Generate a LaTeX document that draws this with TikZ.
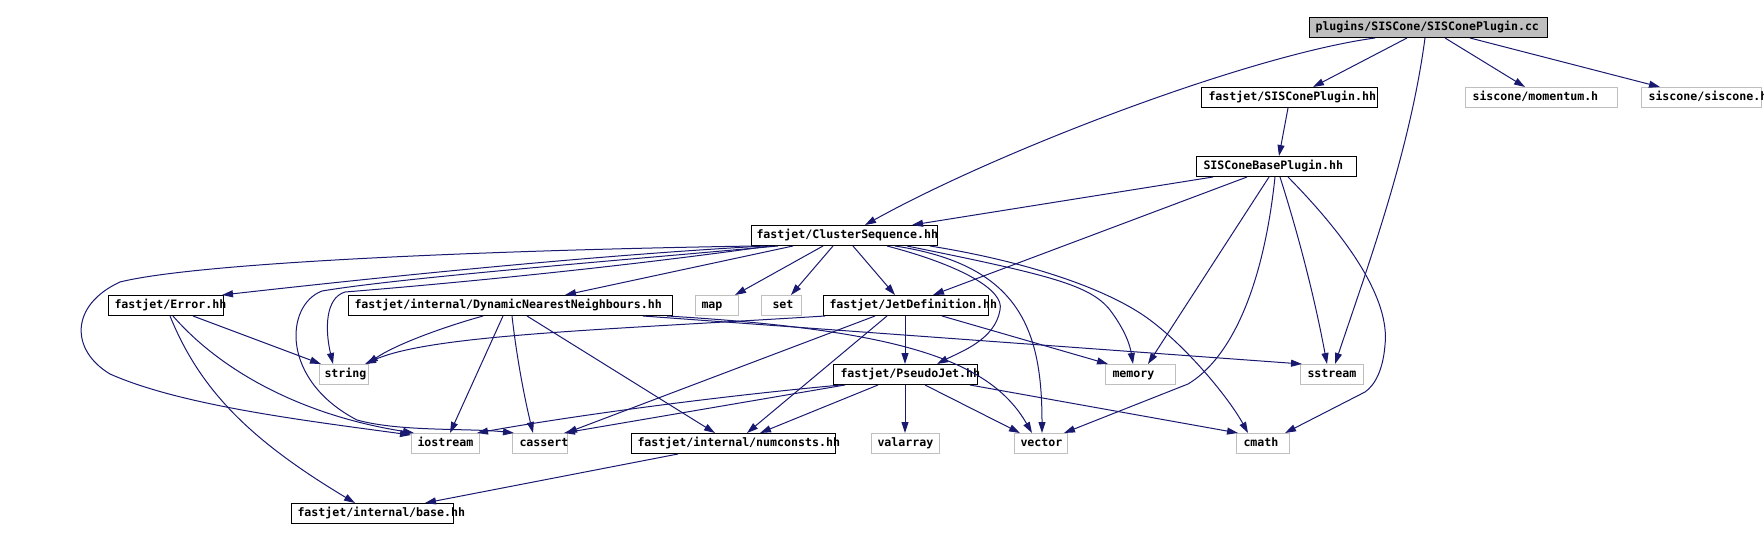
\documentclass[tikz,border=0pt]{standalone}
\usepackage{fontspec}
\newfontfamily\monofnt{DejaVu Sans Mono}
\usetikzlibrary{arrows.meta}
\definecolor{edgeblue}{HTML}{191970}
\definecolor{boxgray}{HTML}{BFBFBF}
\newcommand\lb[3][6]{\makebox[#2pt][l]{\hspace*{#1pt}#3}}
\begin{document}
\begin{tikzpicture}[x=1pt,y=-1pt,
  bx/.style={anchor=north west, inner sep=0pt, minimum height=20pt, text height=8.5pt, text depth=2.5pt, line width=1pt, font=\monofnt\bfseries\fontsize{11.6}{12}\selectfont},
  bk/.style={bx,draw=black},
  gr/.style={bx,draw=boxgray},
  rt/.style={bx,draw=black,fill=boxgray},
  dep/.style={draw=edgeblue,line width=1pt,-{Triangle[length=11pt,width=7pt]}},
]
\useasboundingbox (0,0) rectangle (1764,540);
% nodes
\node[rt] (root) at (1309,17) {\lb{238}{plugins/SISCone/SISConePlugin.cc}};
\node[bk] (spp) at (1201,87) {\lb[7]{176}{fastjet/SISConePlugin.hh}};
\node[gr] (mom) at (1465,87) {\lb[7]{152}{siscone/momentum.h}};
\node[gr] (sis) at (1641,87) {\lb[7]{120}{siscone/siscone.h}};
\node[bk] (sbp) at (1196,156) {\lb[7]{160}{SISConeBasePlugin.hh}};
\node[bk] (cs) at (751,225) {\lb[5]{186}{fastjet/ClusterSequence.hh}};
\node[bk] (err) at (108,295) {\lb{115}{fastjet/Error.hh}};
\node[bk] (dnn) at (348,295) {\lb{324}{fastjet/internal/DynamicNearestNeighbours.hh}};
\node[gr] (map) at (695,295) {\lb{43}{map}};
\node[gr] (set) at (761,295) {\lb[11]{40}{set}};
\node[bk] (jd) at (823,295) {\lb{165}{fastjet/JetDefinition.hh}};
\node[gr] (str) at (319,364) {\lb[5]{49}{string}};
\node[bk] (pj) at (833,364) {\lb[7]{144}{fastjet/PseudoJet.hh}};
\node[gr] (mem) at (1105,364) {\lb[7]{70}{memory}};
\node[gr] (sst) at (1300,364) {\lb[7]{63}{sstream}};
\node[gr] (ios) at (411,433) {\lb{68}{iostream}};
\node[gr] (cas) at (512,433) {\lb[7]{55}{cassert}};
\node[bk] (num) at (631,433) {\lb{204}{fastjet/internal/numconsts.hh}};
\node[gr] (val) at (871,433) {\lb{68}{valarray}};
\node[gr] (vec) at (1014,433) {\lb{53}{vector}};
\node[gr] (cma) at (1236,433) {\lb[7]{53}{cmath}};
\node[bk] (base) at (291,503) {\lb{162}{fastjet/internal/base.hh}};
% root
\draw[dep] ([xshift=66pt]root.south west) .. controls (1250,55) and (1000,150) .. ([xshift=114pt]cs.north west);
\draw[dep] ([xshift=98pt]root.south west) -- ([xshift=112pt]spp.north west);
\draw[dep] ([xshift=116pt]root.south west) .. controls (1410,150) and (1370,260) .. ([xshift=35pt]sst.north west);
\draw[dep] ([xshift=136pt]root.south west) -- ([xshift=60pt]mom.north west);
\draw[dep] ([xshift=161pt]root.south west) -- ([xshift=19pt]sis.north west);
\draw[dep] ([xshift=87pt]spp.south west) -- ([xshift=83pt]sbp.north west);
% SISConeBasePlugin
\draw[dep] ([xshift=17pt]sbp.south west) -- ([xshift=161pt]cs.north west);
\draw[dep] ([xshift=51pt]sbp.south west) -- ([xshift=110pt]jd.north west);
\draw[dep] ([xshift=73pt]sbp.south west) -- ([xshift=43pt]mem.north west);
\draw[dep] ([xshift=79pt]sbp.south west) .. controls (1262,300) and (1225,362) .. (1188,384) -- ([xshift=50pt]vec.north west);
\draw[dep] ([xshift=84pt]sbp.south west) .. controls (1300,240) and (1315,300) .. ([xshift=27pt]sst.north west);
\draw[dep] ([xshift=92pt]sbp.south west) .. controls (1350,240) and (1390,300) .. (1385,345) .. controls (1383,370) and (1375,385) .. (1365,392) -- ([xshift=49pt]cma.north west);
% ClusterSequence
\draw[dep] ([xshift=42pt]cs.south west) -- ([xshift=217pt]dnn.north west);
\draw[dep] ([xshift=72pt]cs.south west) -- ([xshift=40pt]map.north west);
\draw[dep] ([xshift=82pt]cs.south west) -- ([xshift=30pt]set.north west);
\draw[dep] ([xshift=102pt]cs.south west) -- ([xshift=72pt]jd.north west);
\draw[dep] ([xshift=136pt]cs.south west) .. controls (960,265) and (1005,290) .. (1000,310) .. controls (995,340) and (960,352) .. ([xshift=104pt]pj.north west);
\draw[dep] ([xshift=144pt]cs.south west) .. controls (1020,265) and (1042,330) .. ([xshift=28pt]vec.north west);
\draw[dep] ([xshift=156pt]cs.south west) .. controls (1050,275) and (1090,285) .. (1110,310) .. controls (1125,330) and (1130,345) .. ([xshift=28pt]mem.north west);
\draw[dep] ([xshift=179pt]cs.south west) .. controls (1030,262) and (1110,290) .. (1150,320) .. controls (1190,350) and (1230,400) .. ([xshift=12pt]cma.north west);
\draw[dep] ([xshift=14pt]cs.south west) .. controls (600,255) and (400,275) .. ([xshift=114pt]err.north west);
\draw[dep] ([xshift=4pt]cs.south west) .. controls (500,250) and (200,262) .. (120,282) .. controls (70,305) and (70,350) .. (110,374) .. controls (180,405) and (300,420) .. ([yshift=-2pt]ios.north west);
\draw[dep] ([xshift=19pt]cs.south west) .. controls (600,270) and (420,286) .. (345,292) .. controls (325,298) and (325,330) .. ([xshift=14pt]str.north west);
\draw[dep] ([xshift=27pt]cs.south west) .. controls (600,262) and (400,278) .. (322,291) .. controls (285,305) and (280,380) .. (357,420) .. controls (400,432) and (470,428) .. ([xshift=2pt]cas.north west);
% JetDefinition
\draw[dep] ([xshift=82pt]jd.south west) -- ([xshift=72pt]pj.north west);
\draw[dep] ([xshift=2pt]jd.south west) .. controls (600,330) and (430,335) .. ([xshift=46pt]str.north west);
\draw[dep] ([xshift=52pt]jd.south west) -- ([xshift=54pt]cas.north west);
\draw[dep] ([xshift=64pt]jd.south west) -- ([xshift=116pt]num.north west);
\draw[dep] ([xshift=119pt]jd.south west) -- ([xshift=3pt]mem.north west);
% PseudoJet
\draw[dep] ([xshift=72pt]pj.south west) -- ([xshift=34pt]val.north west);
\draw[dep] ([xshift=92pt]pj.south west) -- ([xshift=6pt]vec.north west);
\draw[dep] ([xshift=137pt]pj.south west) -- ([xshift=2pt]cma.north west);
\draw[dep] ([xshift=45pt]pj.south west) -- ([xshift=129pt]num.north west);
\draw[dep] ([xshift=8pt]pj.south west) .. controls (700,398) and (560,418) .. ([xshift=66pt]ios.north west);
\draw[dep] ([xshift=12pt]pj.south west) -- ([xshift=52pt]cas.north west);
% DynamicNearestNeighbours
\draw[dep] ([xshift=135pt]dnn.south west) .. controls (440,328) and (395,345) .. ([xshift=48pt]str.north west);
\draw[dep] ([xshift=155pt]dnn.south west) -- ([xshift=39pt]ios.north west);
\draw[dep] ([xshift=164pt]dnn.south west) .. controls (517,360) and (525,400) .. ([xshift=21pt]cas.north west);
\draw[dep] ([xshift=179pt]dnn.south west) -- ([xshift=84pt]num.north west);
\draw[dep] ([xshift=295pt]dnn.south west) -- ([xshift=2pt]sst.north west);
\draw[dep] ([xshift=319pt]dnn.south west) .. controls (900,330) and (990,360) .. ([xshift=18pt]vec.north west);
% Error
\draw[dep] ([xshift=85pt]err.south west) -- ([xshift=2pt]str.north west);
\draw[dep] ([xshift=65pt]err.south west) .. controls (220,370) and (300,415) .. ([xshift=3pt]ios.north west);
\draw[dep] ([xshift=62pt]err.south west) .. controls (200,390) and (250,440) .. ([xshift=64pt]base.north west);
% numconsts
\draw[dep] ([xshift=47pt]num.south west) -- ([xshift=134pt]base.north west);
\end{tikzpicture}
\end{document}
